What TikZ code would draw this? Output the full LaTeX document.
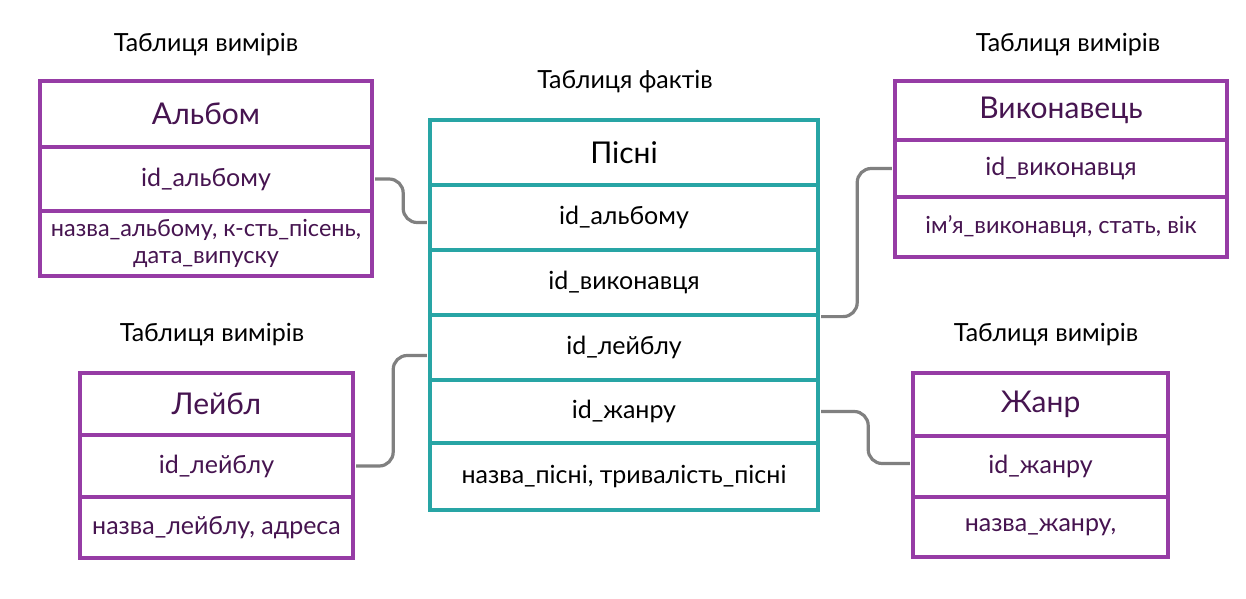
\documentclass[tikz,border=0pt]{standalone}
\usepackage{fontspec}
\setmainfont{Lato}
\usetikzlibrary{calc}
\definecolor{pur}{RGB}{150,60,165}
\definecolor{purtext}{RGB}{70,20,80}
\definecolor{teal2}{RGB}{40,165,165}
\definecolor{conn}{RGB}{128,128,128}
\begin{document}
\begin{tikzpicture}[x=1pt,y=-1pt,
  row/.style={draw=pur,line width=3.2pt,inner sep=2pt,align=center,text=purtext,font=\fontsize{25}{28}\selectfont},
  hdr/.style={row,font=\fontsize{30}{33}\selectfont},
  crow/.style={row,draw=teal2,text=black},
  chdr/.style={crow,font=\fontsize{30}{33}\selectfont},
  small/.style={font=\fontsize{23.5}{27}\selectfont},
  ttl/.style={font=\fontsize{25}{28}\selectfont,text=black},
  link/.style={draw=conn,line width=3.2pt,rounded corners=14pt}]
\useasboundingbox (0,0) rectangle (1246,598);
\fill[white] (0,0) rectangle (1246,598);
\newcommand{\rowbox}[7]{\node[#6,minimum width={#4-#2},minimum height={#5-#3}] (#1) at ({(#2+#4)/2},{(#3+#5)/2}) {#7};}
% centre
\node[ttl] (tf) at (625,82) {Таблиця фактів};
\rowbox{p1}{430}{120}{818}{185}{chdr}{Пісні}
\rowbox{p2}{430}{185}{818}{250}{crow}{id\_альбому}
\rowbox{p3}{430}{250}{818}{315}{crow}{id\_виконавця}
\rowbox{p4}{430}{315}{818}{380}{crow}{id\_лейблу}
\rowbox{p5}{430}{380}{818}{443}{crow}{id\_жанру}
\rowbox{p6}{430}{443}{818}{510}{crow}{назва\_пісні, тривалість\_пісні}
% album
\node[ttl] (t1) at (206,45) {Таблиця вимірів};
\rowbox{a1}{40}{81}{372}{147}{hdr}{Альбом}
\rowbox{a2}{40}{147}{372}{211}{row}{id\_альбому}
\rowbox{a3}{40}{211}{372}{276}{row,small}{назва\_альбому, к-сть\_пісень,\\дата\_випуску}
% artist
\node[ttl] (t2) at (1068,45) {Таблиця вимірів};
\rowbox{v1}{895}{81}{1227}{140}{hdr}{Виконавець}
\rowbox{v2}{895}{140}{1227}{197}{row}{id\_виконавця}
\rowbox{v3}{895}{197}{1227}{257}{row,small}{ім’я\_виконавця, стать, вік}
% label
\node[ttl] (t3) at (212,335) {Таблиця вимірів};
\rowbox{l1}{80}{373}{353}{435}{hdr}{Лейбл}
\rowbox{l2}{80}{435}{353}{497}{row}{id\_лейблу}
\rowbox{l3}{80}{497}{353}{558}{row}{назва\_лейблу, адреса}
% genre
\node[ttl] (t4) at (1046,335) {Таблиця вимірів};
\rowbox{g1}{913}{373}{1168}{436}{hdr}{Жанр}
\rowbox{g2}{913}{436}{1168}{497}{row}{id\_жанру}
\rowbox{g3}{913}{497}{1168}{557}{row}{назва\_жанру,}
% links
\draw[link] ($(a2.east)+(1.6,0)$) -- ++(28,0) |- ($(p2.west)+(-1.6,5)$);
\draw[link] ($(p3.south east)+(1.6,0)$) -- ++(36,0) |- ($(v2.west)+(-1.6,0)$);
\draw[link] ($(l2.east)+(1.6,0)$) -- ++(37,0) |- ($(p4.west)+(-1.6,8)$);
\draw[link] ($(p5.east)+(1.6,0)$) -- ++(47,0) |- ($(g2.west)+(-1.6,-3)$);
\end{tikzpicture}
\end{document}
